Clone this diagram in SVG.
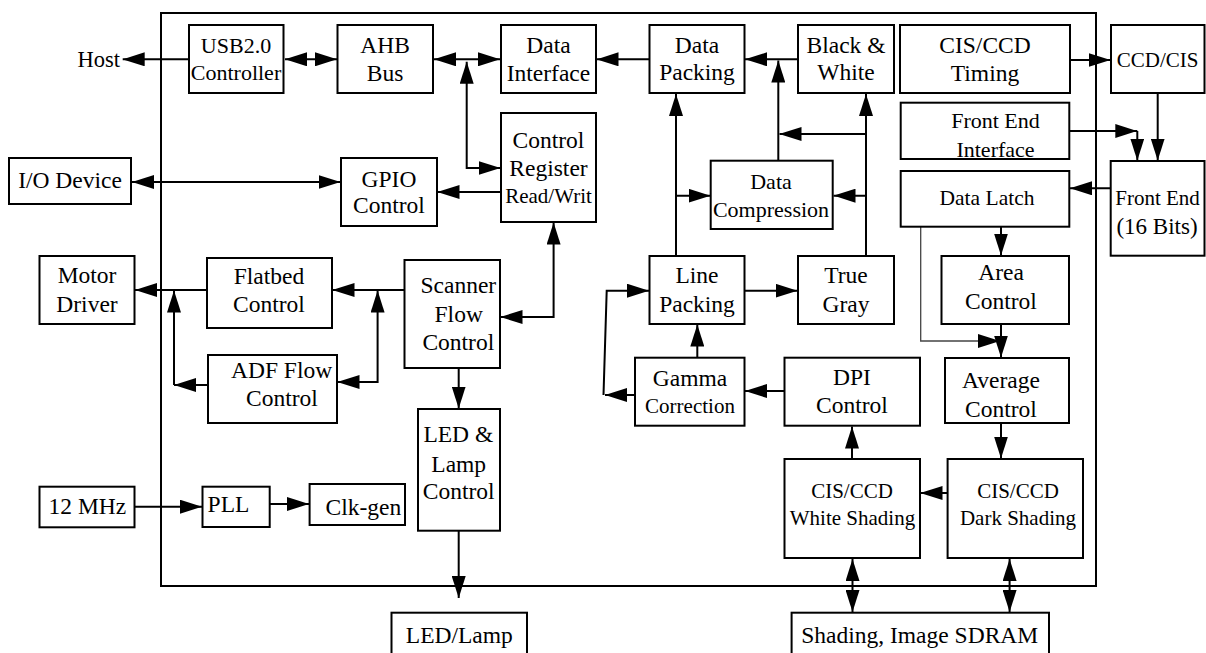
<svg xmlns="http://www.w3.org/2000/svg" width="1206" height="653" viewBox="0 0 1206 653">
<defs>
<marker id="ah" markerUnits="userSpaceOnUse" markerWidth="22" markerHeight="14" refX="22" refY="7" orient="auto-start-reverse" viewBox="0 0 22 14"><path d="M0,0 L22,7 L0,14 z" fill="#000"/></marker>
<style>
rect{fill:#fff;stroke:#000;stroke-width:2}
#frame rect{fill:none}
text{font-family:'Liberation Serif','Times New Roman',serif;font-size:23.5px;fill:#000;text-anchor:middle}
.s21{font-size:21px}
.s22{font-size:22px}
#connectors path{fill:none;stroke:#000;stroke-width:2}
#connectors path.e{marker-end:url(#ah)}
#connectors path.b{marker-start:url(#ah);marker-end:url(#ah)}
#connectors path.g{stroke:#444;stroke-width:1.3}
</style>
</defs>
<rect width="1206" height="653" style="fill:#fff;stroke:none"/>
<g id="frame"><rect x="161" y="13" width="935" height="573"/></g>
<g id="connectors">
<path class="e" d="M189,59.3 L122.7,59.3"/>
<path class="b" d="M285,59.3 L337,59.3"/>
<path class="b" d="M434,59.3 L500,59.3"/>
<path class="b" d="M466.7,61.7 L466.7,168 L500.5,168"/>
<path class="b" d="M132,182 L340.5,182"/>
<path class="e" d="M501,192 L437.5,192"/>
<path class="e" d="M649.5,59.3 L596.5,59.3"/>
<path class="e" d="M798,59.3 L745,59.3"/>
<path class="e" d="M778.3,160.7 L778.3,60.5"/>
<path class="e" d="M866,256 L866,94"/>
<path class="e" d="M866,134 L779.5,134"/>
<path class="e" d="M866,195.7 L833.5,195.7"/>
<path class="e" d="M676,256 L676,94"/>
<path class="e" d="M676,195.7 L710.5,195.7"/>
<path class="e" d="M1070,60 L1110.5,60"/>
<path class="e" d="M1069.3,131 L1137.3,131"/>
<path class="e" d="M1137.3,131 L1137.3,160.5"/>
<path class="e" d="M1157.7,93 L1157.7,160.5"/>
<path class="e" d="M1110.7,188.3 L1070,188.3"/>
<path class="e" d="M1001,226.7 L1001,255.5"/>
<path class="e g" d="M920.7,226.7 L920.7,341 L1000,341"/>
<path class="e" d="M1001,324 L1001,357.5"/>
<path class="e" d="M1001,423 L1001,458.5"/>
<path class="e" d="M947.6,493 L920.5,493"/>
<path class="e" d="M852,459 L852,426.5"/>
<path class="e" d="M784.5,391 L745,391"/>
<path class="e" d="M697.3,357.7 L697.3,324.5"/>
<path class="e" d="M635,395 L605,395"/>
<path class="e" d="M603.5,395 L606.7,290.7 L649,290.7"/>
<path class="e" d="M744.5,290.7 L797.5,290.7"/>
<path class="b" d="M852.5,559 L852.5,612"/>
<path class="b" d="M1009.6,559 L1009.6,612"/>
<path class="e" d="M404.5,290 L332.5,290"/>
<path class="b" d="M377.6,290.5 L377.6,382 L337.5,382"/>
<path class="e" d="M207,290 L135,290"/>
<path class="e" d="M208,385 L174,385"/>
<path class="e" d="M174,385 L174,290.5"/>
<path class="b" d="M500.5,317 L553.6,317 L553.6,222.5"/>
<path class="e" d="M458.7,368 L458.7,408.5"/>
<path class="e" d="M458.7,530.7 L458.7,598"/>
<path class="e" d="M134.5,506.7 L202,506.7"/>
<path class="e" d="M269.7,504 L309,504"/>
</g>
<g id="host"><text x="120" y="67" style="text-anchor:end;font-size:22.5px">Host</text></g>
<g id="usb"><rect x="189" y="25" width="94.5" height="68"/><text class="s22" x="236" y="53.3">USB2.0</text><text class="s22" x="236" y="80">Controller</text></g>
<g id="ahb"><rect x="337.5" y="25" width="95.5" height="68"/><text x="385" y="53.3">AHB</text><text x="385" y="80.5">Bus</text></g>
<g id="datainterface"><rect x="501" y="25" width="95" height="68"/><text x="548.5" y="53">Data</text><text x="548.5" y="80.5">Interface</text></g>
<g id="datapacking"><rect x="649.5" y="25" width="95" height="68"/><text x="697" y="52.7">Data</text><text x="697" y="80">Packing</text></g>
<g id="bw"><rect x="798" y="25" width="96" height="68"/><text x="846" y="53">Black &amp;</text><text x="846" y="80">White</text></g>
<g id="timing"><rect x="900" y="25" width="170" height="68"/><text x="985" y="53.3">CIS/CCD</text><text x="985" y="80.7">Timing</text></g>
<g id="ccdcis"><rect x="1111" y="25" width="93.5" height="68"/><text class="s21" x="1157.7" y="66.7">CCD/CIS</text></g>
<g id="feinterface"><rect x="900.7" y="102.7" width="168.6" height="56.3"/><text class="s22" x="995.5" y="128.3">Front End</text><text class="s22" x="995.5" y="156.7">Interface</text></g>
<g id="controlreg"><rect x="501" y="113" width="95" height="109"/><text x="548.5" y="148.3">Control</text><text x="548.5" y="176">Register</text><text class="s21" x="548.5" y="203.3">Read/Writ</text></g>
<g id="gpio"><rect x="341" y="158" width="96" height="68"/><text x="389" y="186.7">GPIO</text><text x="389" y="213.3">Control</text></g>
<g id="iodevice"><rect x="9" y="158" width="122" height="46"/><text x="70" y="188.3">I/O Device</text></g>
<g id="compression"><rect x="710.7" y="160.7" width="122" height="68.3"/><text class="s22" x="771" y="189.3">Data</text><text class="s22" x="771" y="216.7">Compression</text></g>
<g id="datalatch"><rect x="900.7" y="171" width="168.6" height="55.7"/><text style="font-size:21.5px" x="987" y="205">Data Latch</text></g>
<g id="frontend"><rect x="1110.7" y="161" width="93.8" height="94.7"/><text class="s21" x="1157.5" y="205">Front End</text><text style="font-size:23px" x="1157" y="234">(16 Bits)</text></g>
<g id="motor"><rect x="39.5" y="256" width="95" height="68"/><text x="87" y="283.3">Motor</text><text x="87" y="311.7">Driver</text></g>
<g id="flatbed"><rect x="207" y="258" width="125" height="70"/><text x="269" y="284">Flatbed</text><text x="269" y="311.7">Control</text></g>
<g id="scanner"><rect x="404.5" y="260" width="95.5" height="108"/><text x="458.3" y="293.3">Scanner</text><text x="458.7" y="321.7">Flow</text><text x="458.3" y="350">Control</text></g>
<g id="linepacking"><rect x="649.5" y="256" width="95" height="68"/><text x="697" y="283.3">Line</text><text x="697" y="311.7">Packing</text></g>
<g id="truegray"><rect x="798" y="256" width="96" height="68"/><text x="846" y="283.3">True</text><text x="846" y="311.7">Gray</text></g>
<g id="area"><rect x="941.5" y="256" width="127.5" height="68"/><text x="1001" y="280">Area</text><text x="1001" y="309">Control</text></g>
<g id="adf"><rect x="208" y="355" width="129" height="68"/><text x="281.6" y="378.3">ADF Flow</text><text x="282" y="406">Control</text></g>
<g id="gamma"><rect x="635" y="357.7" width="109.5" height="68"/><text x="690" y="386">Gamma</text><text class="s21" x="690" y="412.7">Correction</text></g>
<g id="dpi"><rect x="784.5" y="357.7" width="135.5" height="68"/><text x="852" y="385">DPI</text><text x="852" y="412.7">Control</text></g>
<g id="average"><rect x="945" y="358" width="124" height="65"/><text x="1001" y="388.3">Average</text><text x="1001" y="417.3">Control</text></g>
<g id="led"><rect x="418" y="409" width="82" height="121.7"/><text x="458.3" y="441.7">LED &amp;</text><text x="458.7" y="471.7">Lamp</text><text x="458.7" y="499.3">Control</text></g>
<g id="whiteshading"><rect x="784.5" y="459" width="135.5" height="99"/><text class="s21" x="852" y="498">CIS/CCD</text><text class="s21" x="852.5" y="525">White Shading</text></g>
<g id="darkshading"><rect x="947.6" y="459" width="135.4" height="99"/><text class="s21" x="1018" y="498">CIS/CCD</text><text class="s21" x="1018" y="525">Dark Shading</text></g>
<g id="mhz"><rect x="39.5" y="486.7" width="95" height="40.6"/><text x="87.4" y="514">12 MHz</text></g>
<g id="pll"><rect x="202.5" y="486.7" width="67.2" height="40.3"/><text x="207.6" y="511.7" style="text-anchor:start">PLL</text></g>
<g id="clkgen"><rect x="309.6" y="484" width="95.4" height="41"/><text x="363.4" y="515">Clk-gen</text></g>
<g id="ledlamp"><rect x="391.5" y="612.7" width="135.5" height="45"/><text x="459.3" y="643">LED/Lamp</text></g>
<g id="sdram"><rect x="791.6" y="612.7" width="257.4" height="45"/><text x="919.7" y="643">Shading, Image SDRAM</text></g>
</svg>
